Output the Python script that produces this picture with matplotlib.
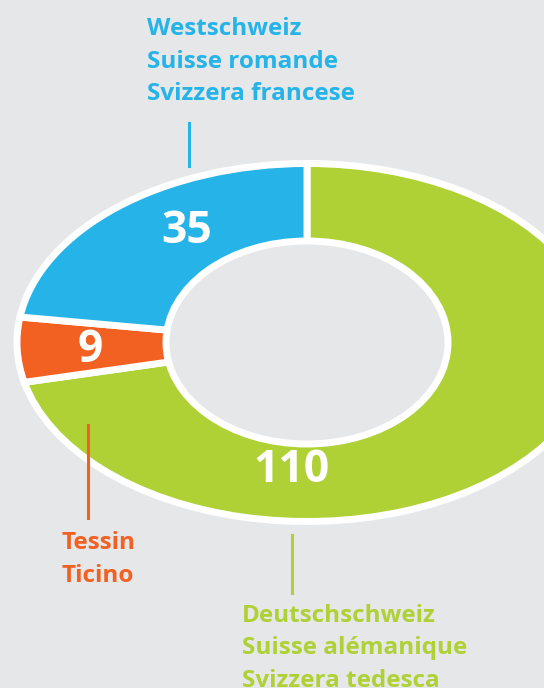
import matplotlib
matplotlib.use("Agg")
import matplotlib.pyplot as plt
from matplotlib.patches import Ellipse

# Data
regions = ["Deutschschweiz\nSuisse alémanique\nSvizzera tedesca",
           "Tessin\nTicino",
           "Westschweiz\nSuisse romande\nSvizzera francese"]
values = [110, 9, 35]
colors = ["#afd136", "#f26122", "#26b4e8"]

BG = "#e6e7e9"
W, H = 544, 688
FONT = "Open Sans"

fig = plt.figure(figsize=(W / 100, H / 100), dpi=100, facecolor=BG)
ax = fig.add_axes([0, 0, 1, 1])
ax.set_facecolor(BG)

ax.pie(values, colors=colors, startangle=90, counterclock=False, radius=1.0,
       wedgeprops=dict(edgecolor="white", linewidth=5))
ax.set_aspect("auto")

cx, cy = 307, 342.5   # centre in pixels (from top-left)
rx, ry = 290, 179     # outer radii in pixels
ax.set_xlim(-cx / rx, (W - cx) / rx)
ax.set_ylim(-(H - cy) / ry, cy / ry)
ax.axis("off")

# hole of the donut
hole = Ellipse((0, 0), 2 * 141 / rx, 2 * 101.5 / ry, facecolor=BG,
               edgecolor="white", linewidth=5, zorder=5)
ax.add_patch(hole)


def fx(x):
    return x / W


def fy(y):
    return 1 - y / H


# Values inside the ring
num_pos = [(292, 471), (90, 350), (187, 232)]
for v, (x, y) in zip(values, num_pos):
    fig.text(fx(x), fy(y), str(v), color="white", fontsize=32, fontweight="bold",
             family=FONT, ha="center", va="center", zorder=10)

# Category labels with leader lines
label_pos = [(242, 622), (61, 549), (147, 35)]
lines = [(292, 535, 593), (88, 425, 518), (189, 123, 166)]
for name, c, (x, y), (lx, y0, y1) in zip(regions, colors, label_pos, lines):
    for i, ln in enumerate(name.split("\n")):
        fig.text(fx(x), fy(y + 32.5 * i), ln, color=c, fontsize=17.5,
                 fontweight="bold", family=FONT, ha="left", va="baseline")
    fig.add_artist(plt.Line2D([fx(lx), fx(lx)], [fy(y0), fy(y1)], color=c,
                              linewidth=2.2, transform=fig.transFigure))

fig.savefig("out.png", dpi=100, facecolor=BG)
